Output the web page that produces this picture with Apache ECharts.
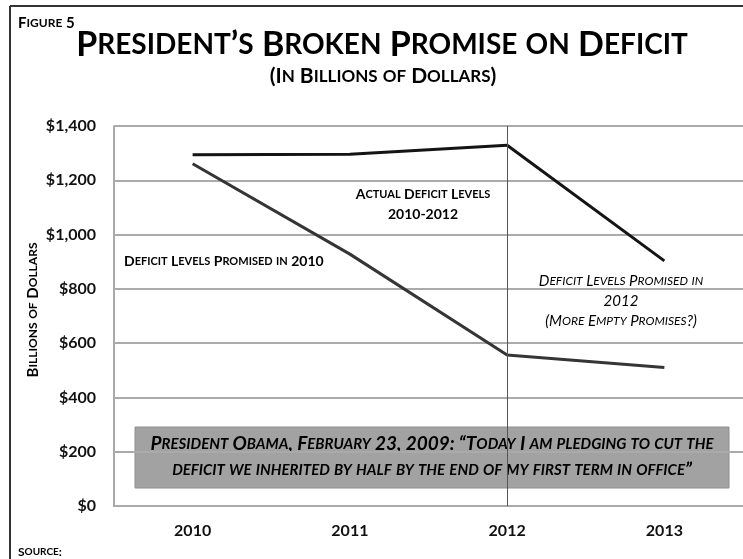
<!DOCTYPE html>
<html>
<head>
<meta charset="utf-8">
<script src="https://cdn.jsdelivr.net/npm/echarts@6/dist/echarts.min.js"></script>
<style>
  html, body { margin: 0; padding: 0; background: #fff; }
  #chart { width: 743px; height: 559px; }
</style>
</head>
<body>
<div id="chart"></div>
<script>
// Fiscal years on the category axis
const years = ['2010', '2011', '2012', '2013'];
// Deficits, billions of dollars
const actualDeficit = [1294, 1296, 1329, null];
const promised2012 = [null, null, 1329, 903];
const promised2010 = [1261, 928, 556, 510];
// Value axis
const yMin = 0;
const yMax = 1400;
const yStep = 200;

const FONT = 'Lato';

// Word-style small caps: lowercase letters become smaller capitals,
// everything else keeps the full size.
function smallCaps(str, big, small) {
  let out = '';
  let cur = null, buf = '';
  const flush = () => { if (buf) out += '{' + cur + '|' + buf + '}'; buf = ''; };
  for (const ch of str) {
    const isLower = ch !== ch.toUpperCase();
    const st = isLower ? small : big;
    if (st !== cur) { flush(); cur = st; }
    buf += isLower ? ch.toUpperCase() : ch;
  }
  flush();
  return out;
}

function scRich(prefix, size, ratio, extra) {
  const r = {};
  r[prefix + 'B'] = Object.assign({ fontSize: size, fontFamily: FONT }, extra);
  r[prefix + 'S'] = Object.assign({ fontSize: Math.round(size * ratio), fontFamily: FONT }, extra);
  return r;
}

function multi(lines, p) {
  return lines.map(l => smallCaps(l, p + 'B', p + 'S')).join('\n');
}

const chart = echarts.init(document.getElementById('chart'));

const figRich = scRich('f', 15, 0.8, { fontWeight: 'bold', color: '#222' });
const titleRich = scRich('t', 34, 0.82, { fontWeight: 'bold', color: '#111' });
const subRich = scRich('s', 21, 0.8, { fontWeight: 'bold', color: '#111' });
const nameRich = scRich('n', 15, 0.8, { fontWeight: 'bold', color: '#222' });
const actualRich = scRich('a', 14, 0.8, { fontWeight: 'bold', color: '#1a1a1a', lineHeight: 20 });
const prom10Rich = scRich('p', 14, 0.8, { fontWeight: 'bold', color: '#3c3c3c' });
const prom12Rich = scRich('q', 15, 0.8, { fontStyle: 'italic', color: '#6a6a6a', lineHeight: 20 });
const quoteRich = scRich('o', 19, 0.8, { fontStyle: 'italic', fontWeight: 'bold', color: '#5c5c5c', lineHeight: 26 });

const option = {
  animation: false,
  backgroundColor: '#fff',
  grid: { left: 114, top: 126, width: 634, height: 380, containLabel: false },
  xAxis: {
    type: 'category',
    data: years,
    boundaryGap: true,
    axisLine: { show: true, lineStyle: { color: '#aaa', width: 2 } },
    axisTick: { show: false },
    axisLabel: { margin: 17, fontFamily: FONT, fontWeight: 'bold', fontSize: 16, color: '#111' },
    splitLine: { show: false }
  },
  yAxis: {
    type: 'value',
    min: yMin, max: yMax, interval: yStep,
    axisLine: { show: true, lineStyle: { color: '#aaa', width: 2 } },
    axisTick: { show: false },
    axisLabel: {
      margin: 18,
      fontFamily: FONT, fontWeight: 'bold', fontSize: 16, color: '#111',
      formatter: v => '$' + v.toLocaleString('en-US')
    },
    splitLine: { show: true, lineStyle: { color: '#aaa', width: 2 } }
  },
  series: [
    {
      name: 'Actual Deficit Levels 2010-2012',
      type: 'line',
      data: actualDeficit,
      symbol: 'none',
      lineStyle: { color: '#141414', width: 3 },
      markLine: {
        silent: true,
        symbol: 'none',
        label: { show: false },
        lineStyle: { color: '#555', width: 1, type: 'solid' },
        data: [{ xAxis: '2012' }]
      },
      z: 3
    },
    {
      name: 'Deficit Levels Promised in 2012',
      type: 'line',
      data: promised2012,
      symbol: 'none',
      lineStyle: { color: '#141414', width: 3 },
      z: 3
    },
    {
      name: 'Deficit Levels Promised in 2010',
      type: 'line',
      data: promised2010,
      symbol: 'none',
      lineStyle: { color: '#353535', width: 3 },
      z: 3
    }
  ],
  graphic: [
    // figure frame (top and left edges)
    { type: 'line', shape: { x1: 10, y1: 6, x2: 743, y2: 6 }, style: { stroke: '#333', lineWidth: 2 } },
    { type: 'line', shape: { x1: 10, y1: 6, x2: 10, y2: 559 }, style: { stroke: '#333', lineWidth: 2 } },
    {
      type: 'text', x: 18, y: 16,
      style: { text: smallCaps('Figure 5', 'fB', 'fS'), rich: figRich }
    },
    {
      type: 'text', x: 382, y: 28,
      style: { text: smallCaps('President\u2019s Broken Promise on Deficit', 'tB', 'tS'), rich: titleRich, align: 'center' }
    },
    {
      type: 'text', x: 383, y: 66,
      style: { text: smallCaps('(In Billions of Dollars)', 'sB', 'sS'), rich: subRich, align: 'center' }
    },
    // value-axis title
    {
      type: 'text', x: 33, y: 310, rotation: Math.PI / 2,
      style: { text: smallCaps('Billions of Dollars', 'nB', 'nS'), rich: nameRich, align: 'center', verticalAlign: 'middle' }
    },
    {
      type: 'text', x: 18, y: 546,
      style: { text: smallCaps('Source:', 'fB', 'fS'), rich: scRich('f', 12, 0.8, { fontWeight: 'bold', color: '#222' }) }
    },
    {
      type: 'text', x: 423, y: 184, z: 10,
      style: { text: multi(['Actual Deficit Levels', '2010-2012'], 'a'), rich: actualRich, align: 'center' }
    },
    {
      type: 'text', x: 124, y: 254, z: 10,
      style: { text: multi(['Deficit Levels Promised in 2010'], 'p'), rich: prom10Rich }
    },
    {
      type: 'text', x: 621, y: 271, z: 10,
      style: { text: multi(['Deficit Levels Promised in', '2012', '(More Empty Promises?)'], 'q'), rich: prom12Rich, align: 'center' }
    },
    {
      type: 'group', z: 20,
      children: [
        { type: 'rect', shape: { x: 135, y: 427, width: 594, height: 61 }, style: { fill: '#a2a2a2', stroke: '#8e8e8e', lineWidth: 1 } },
        {
          type: 'text', x: 432, y: 431,
          style: {
            text: multi(['President Obama, February 23, 2009: \u201cToday I am pledging to cut the',
                         'deficit we inherited by half by the end of my first term in office\u201d'], 'o'),
            rich: quoteRich, align: 'center'
          }
        }
      ]
    }
  ]
};

chart.setOption(option);
</script>
</body>
</html>
